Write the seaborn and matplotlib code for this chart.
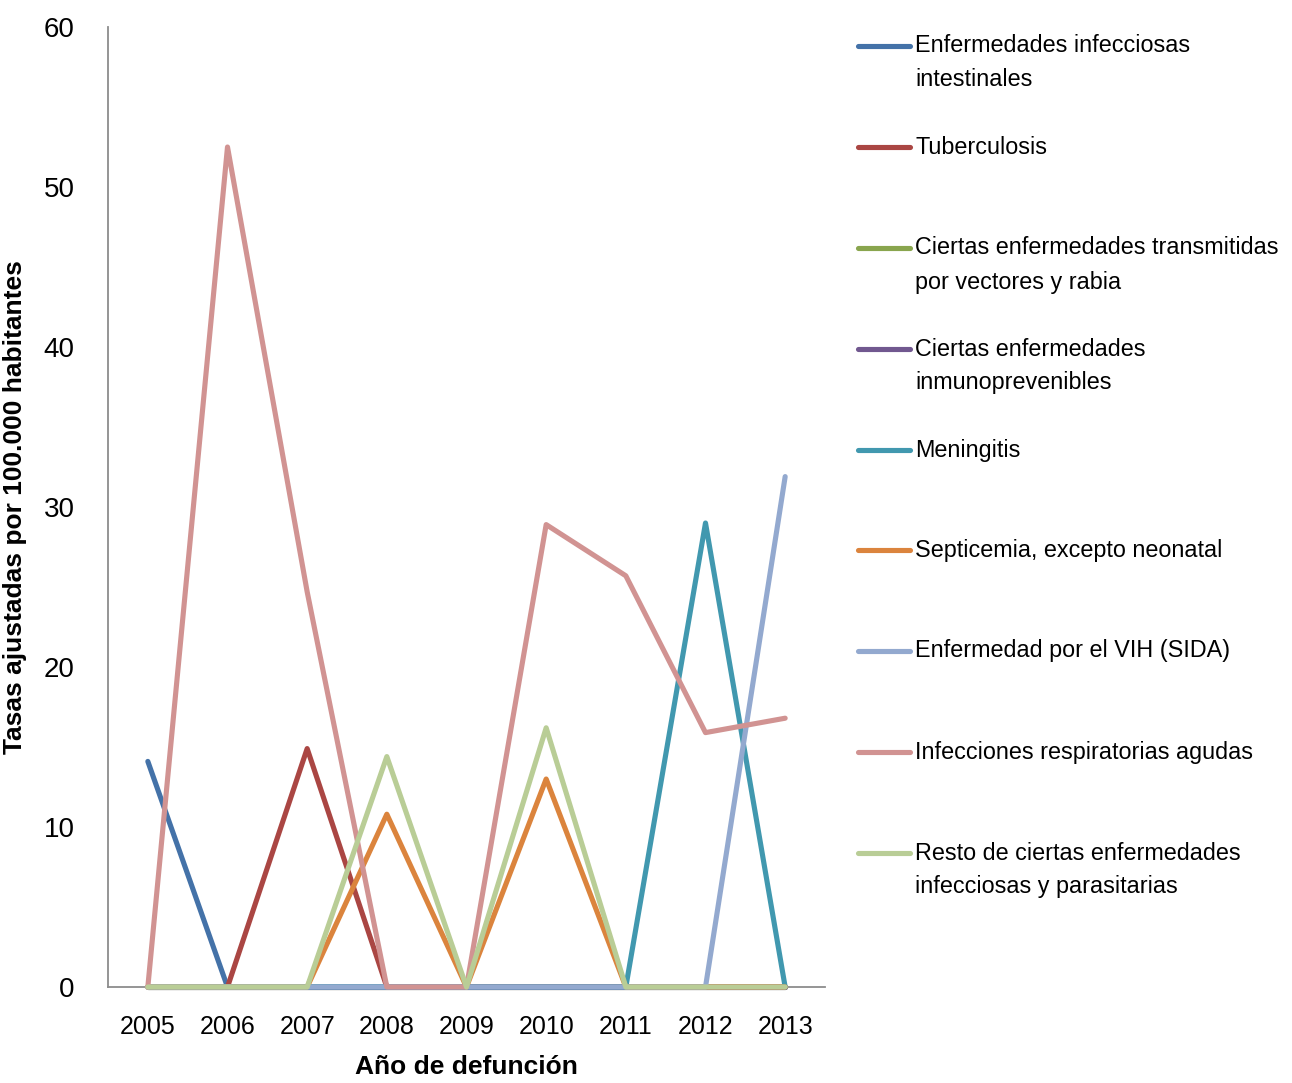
import matplotlib
matplotlib.use("Agg")
import matplotlib.pyplot as plt
from matplotlib.lines import Line2D
import seaborn as sns
import pandas as pd

years = ["2005", "2006", "2007", "2008", "2009", "2010", "2011", "2012", "2013"]
series_names = [
    "Enfermedades infecciosas\nintestinales",
    "Tuberculosis",
    "Ciertas enfermedades transmitidas\npor vectores y rabia",
    "Ciertas enfermedades\ninmunoprevenibles",
    "Meningitis",
    "Septicemia, excepto neonatal",
    "Enfermedad por el VIH (SIDA)",
    "Infecciones respiratorias agudas",
    "Resto de ciertas enfermedades\ninfecciosas y parasitarias",
]
intestinales = [14.1, 0, 0, 0, 0, 0, 0, 0, 0]
tuberculosis = [0, 0, 14.9, 0, 0, 0, 0, 0, 0]
vectores = [0, 0, 0, 0, 0, 0, 0, 0, 0]
inmunoprevenibles = [0, 0, 0, 0, 0, 0, 0, 0, 0]
meningitis = [0, 0, 0, 0, 0, 0, 0, 29.0, 0]
septicemia = [0, 0, 0, 10.8, 0, 13.0, 0, 0, 0]
vih = [0, 0, 0, 0, 0, 0, 0, 0, 31.9]
respiratorias = [0, 52.5, 24.7, 0, 0, 28.9, 25.7, 15.9, 16.8]
resto = [0, 0, 0, 14.4, 0, 16.2, 0, 0, 0]
all_values = [intestinales, tuberculosis, vectores, inmunoprevenibles, meningitis,
              septicemia, vih, respiratorias, resto]
colors = ["#4472A8", "#AA4643", "#89A54E", "#71588F", "#4198AF",
          "#DB843D", "#93A9CF", "#D19392", "#B9CD96"]

rows = []
for name, vals in zip(series_names, all_values):
    for i, (y, v) in enumerate(zip(years, vals)):
        rows.append({"pos": i, "year": y, "serie": name, "valor": v})
df = pd.DataFrame(rows)

sns.set_theme(style="white")
plt.rcParams['font.family'] = ['Liberation Sans', 'DejaVu Sans']
plt.rcParams['text.color'] = 'black'
plt.rcParams['axes.labelcolor'] = 'black'
plt.rcParams['xtick.color'] = 'black'
plt.rcParams['ytick.color'] = 'black'

W, H = 1292, 1083
fig = plt.figure(figsize=(W / 100, H / 100), dpi=100)
ax = fig.add_axes([108 / W, 1 - 987 / H, (825 - 108) / W, (987 - 27) / H])

sns.lineplot(data=df, x="pos", y="valor", hue="serie", hue_order=series_names,
             palette=colors, linewidth=3.7, legend=False, sort=False, ax=ax,
             solid_capstyle="round", solid_joinstyle="round")
for ln in ax.lines:
    ln.set_clip_on(False)

axis_col = "#8C8C8C"
ax.set_xlim(-0.5, 8.5)
ax.set_ylim(0, 60)
ax.set_yticks(range(0, 61, 10))
ax.set_xticks([i - 0.5 for i in range(10)])
ax.set_xticklabels([])
ax.set_xticks(range(9), minor=True)
ax.set_xticklabels(years, minor=True, fontsize=18)
ax.tick_params(axis="x", which="minor", length=0, pad=20, labelcolor="black")
ax.tick_params(axis="x", which="major", length=8, width=1.3, color=axis_col, direction="out")
ax.tick_params(axis="y", length=8, width=1.3, color=axis_col, direction="out",
               labelsize=20, pad=16, labelcolor="black")
for s in ["top", "right"]:
    ax.spines[s].set_visible(False)
for s in ["left", "bottom"]:
    ax.spines[s].set_color(axis_col)
    ax.spines[s].set_linewidth(1.3)
    ax.spines[s].set_zorder(0)
ax.set_xlabel("Año de defunción", fontsize=19, fontweight="bold", labelpad=12, color="black")
ax.set_ylabel("Tasas ajustadas por 100.000 habitantes", fontsize=19, fontweight="bold",
              labelpad=12, color="black")
ax.grid(False)

# legend drawn manually
entry_y = [46, 147, 248, 349, 450, 550, 651, 752, 853]
for name, col, yy in zip(series_names, colors, entry_y):
    yf = 1 - yy / H
    fig.add_artist(Line2D([858 / W, 910 / W], [yf, yf], color=col, linewidth=3.7,
                          solid_capstyle="round", transform=fig.transFigure))
    for k, line in enumerate(name.split("\n")):
        fig.text(915 / W, 1 - (yy + 34 * k) / H, line, fontsize=16.8,
                 ha="left", va="center", color="black")

fig.savefig("out.png", dpi=100)
